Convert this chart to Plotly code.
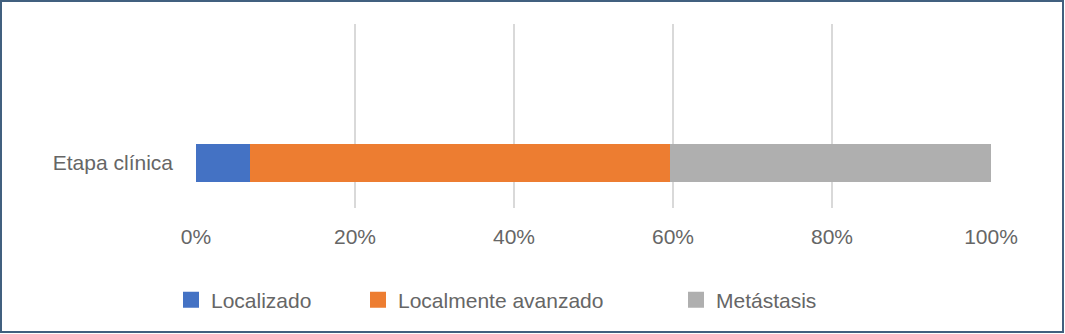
import plotly.graph_objects as go

categories = ["Etapa clínica"]
series_names = ["Localizado", "Localmente avanzado", "Metástasis"]
series_values = [[6.8], [52.8], [40.4]]
series_colors = ["#4472C4", "#ED7D31", "#AFAFAF"]
tick_vals = [0, 20, 40, 60, 80, 100]
tick_text = ["0%", "20%", "40%", "60%", "80%", "100%"]

W, H = 1065, 334
L, R, T, B = 196, 74, 24, 126
FONT = "Liberation Sans, Arial, sans-serif"
TXT = "#666666"

fig = go.Figure()
legend_ids = ["legend", "legend2", "legend3"]
for name, vals, col, lg in zip(series_names, series_values, series_colors, legend_ids):
    fig.add_trace(go.Bar(
        y=categories, x=vals, orientation="h", name=name,
        marker=dict(color=col, line=dict(width=0)),
        width=0.207, showlegend=False, hoverinfo="skip",
    ))
    fig.add_trace(go.Scatter(
        x=[None], y=[None], mode="markers", name=name,
        marker=dict(symbol="square", size=17, color=col),
        legend=lg, showlegend=True,
    ))

pw = W - L - R
ph = H - T - B
legend_x = [171, 358, 676]
legend_common = dict(
    orientation="h", xref="container", yref="container",
    xanchor="left", yanchor="middle", y=1 - 300 / H,
    font=dict(family=FONT, size=21, color=TXT),
    bgcolor="rgba(0,0,0,0)", borderwidth=0,
)
fig.update_layout(
    width=W, height=H,
    margin=dict(l=L, r=R, t=T, b=B, autoexpand=False),
    paper_bgcolor="white", plot_bgcolor="white",
    barmode="stack", bargap=0,
    font=dict(family=FONT, size=21, color=TXT),
    xaxis=dict(
        range=[0, 100], tickvals=tick_vals, ticktext=tick_text,
        showgrid=True, gridcolor="#D9D9D9", gridwidth=2,
        zeroline=False, showline=False, ticks="",
        ticklabelstandoff=14, fixedrange=True,
        tickfont=dict(family=FONT, size=21, color=TXT),
    ),
    yaxis=dict(
        type="category", range=[-0.245, 0.755],
        showgrid=False, zeroline=False, showline=False, ticks="",
        ticklabelstandoff=22, fixedrange=True,
        tickfont=dict(family=FONT, size=21, color=TXT),
    ),
    legend=dict(x=legend_x[0] / W, **legend_common),
    legend2=dict(x=legend_x[1] / W, **legend_common),
    legend3=dict(x=legend_x[2] / W, **legend_common),
    shapes=[dict(
        type="rect", xref="paper", yref="paper",
        x0=(1 - L) / pw, x1=(W - 2 - L) / pw,
        y0=-(B - 2) / ph, y1=1 + (T - 1) / ph,
        line=dict(color="#41607F", width=2), fillcolor="rgba(0,0,0,0)",
        layer="above",
    )],
)

fig.write_html(
    "out.html",
    config={"displayModeBar": False},
    post_script="document.body.style.margin='0';document.body.style.padding='0';",
)
